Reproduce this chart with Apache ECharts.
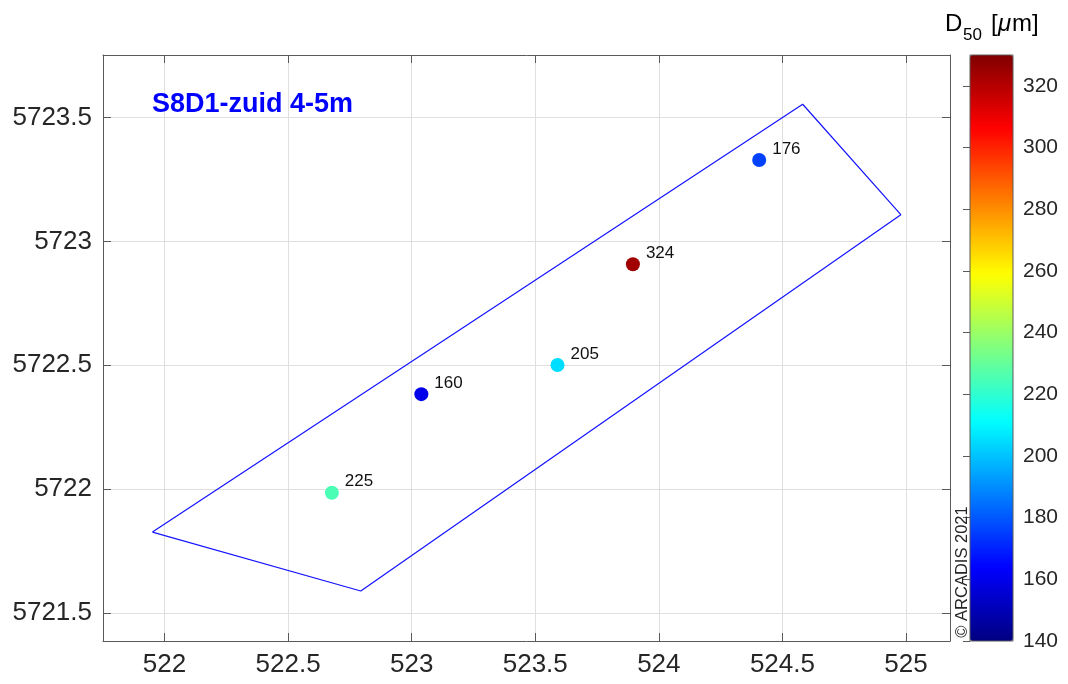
<!DOCTYPE html>
<html>
<head>
<meta charset="utf-8">
<script src="https://cdn.jsdelivr.net/npm/echarts@6/dist/echarts.min.js"></script>
<style>
html,body{margin:0;padding:0;background:#fff;}
#chart{width:1068px;height:684px;}
</style>
</head>
<body>
<div id="chart"></div>
<script>
// ---- data ----
const pointX = [522.677, 523.039, 523.590, 523.895, 524.406];
const pointY = [5721.985, 5722.383, 5722.501, 5722.908, 5723.329];
const d50 = [225, 160, 205, 324, 176];
const polyX = [521.951, 522.794, 524.979, 524.582, 521.951];
const polyY = [5721.826, 5721.588, 5723.108, 5723.554, 5721.826];
const xTicks = [522, 522.5, 523, 523.5, 524, 524.5, 525];
const yTicks = [5721.5, 5722, 5722.5, 5723, 5723.5];
const cbTicks = [140, 160, 180, 200, 220, 240, 260, 280, 300, 320];
const titleText = 'S8D1-zuid 4-5m';
const copyrightText = '\u00A9 ARCADIS 2021';

const xRange = [521.751, 525.178];
const yRange = [5721.386, 5723.753];
const cRange = [140, 330];

const FONT = '"Liberation Sans", Arial, Helvetica, sans-serif';
const TXT = '#262626';
const AX = '#5a5a5a';
const GRID = '#dfdfdf';
const jet = ['#000080','#0000ff','#0080ff','#00ffff','#80ff80','#ffff00','#ff8000','#ff0000','#800000'];

const scatterData = pointX.map((x, i) => [x, pointY[i], d50[i]]);
const polyData = polyX.map((x, i) => [x, polyY[i]]);

const fmt = v => String(+v.toFixed(3));

function mainAxis(pos, range, ticks, showLabel, isX) {
  return {
    type: 'value', gridIndex: 0, position: pos,
    min: range[0], max: range[1],
    axisLine: { show: true, onZero: false, lineStyle: { color: AX, width: 1 } },
    axisTick: { show: true, inside: true, length: 8, customValues: ticks, lineStyle: { color: AX } },
    axisLabel: { show: showLabel, customValues: ticks, formatter: fmt, color: TXT, fontSize: 26, fontFamily: FONT, margin: isX ? 11 : 11 },
    splitLine: { show: showLabel, lineStyle: { color: GRID, width: 1 } }
  };
}

const option = {
  backgroundColor: '#fff',
  animation: false,
  grid: [
    { left: 103, top: 55, right: 118, bottom: 43, containLabel: false },
    { left: 970, top: 55, width: 43, height: 586, show: true, borderColor: AX, borderWidth: 1, backgroundColor: 'transparent', z: 10 }
  ],
  xAxis: [
    mainAxis('bottom', xRange, xTicks, true, true),
    mainAxis('top', xRange, xTicks, false, true),
    { type: 'value', gridIndex: 1, show: false, min: 0, max: 1 }
  ],
  yAxis: [
    mainAxis('left', yRange, yTicks, true, false),
    mainAxis('right', yRange, yTicks, false, false),
    {
      type: 'value', gridIndex: 1, position: 'right', z: 10,
      min: cRange[0], max: cRange[1],
      axisLine: { show: false },
      axisTick: { show: true, inside: true, length: 7, customValues: cbTicks, lineStyle: { color: AX } },
      axisLabel: { show: true, customValues: cbTicks, color: TXT, fontSize: 21, fontFamily: FONT, margin: 10 },
      splitLine: { show: false }
    }
  ],
  visualMap: {
    type: 'continuous', seriesIndex: 1, dimension: 2,
    min: cRange[0], max: cRange[1],
    inRange: { color: jet },
    calculable: false, hoverLink: false,
    left: 970, top: 55, itemWidth: 43, itemHeight: 586,
    padding: 0, text: null, showLabel: false, z: 4
  },
  series: [
    {
      type: 'line', xAxisIndex: 0, yAxisIndex: 0,
      data: polyData, symbol: 'none', silent: true,
      lineStyle: { color: '#1414ff', width: 1.2 }, z: 3
    },
    {
      type: 'scatter', xAxisIndex: 0, yAxisIndex: 0,
      data: scatterData, symbolSize: 14, z: 4,
      itemStyle: { opacity: 1 },
      label: {
        show: true, position: 'right', distance: 5, offset: [1, -11],
        formatter: p => String(p.value[2]),
        color: '#111', fontSize: 17, fontFamily: FONT, opacity: 1
      }
    }
  ],
  graphic: [
    { type: 'text', left: 152, top: 91, z: 20,
      style: { text: titleText, fill: '#0000ff', font: 'bold 27px ' + FONT } },
    { type: 'text', x: 962, y: 572, rotation: Math.PI / 2, z: 20,
      style: { text: copyrightText, fill: TXT, font: '16.5px ' + FONT, align: 'center', verticalAlign: 'middle' } },
    { type: 'text', x: 945, y: 24, z: 20,
      style: { text: 'D', fill: '#000', font: '24px ' + FONT, align: 'left', verticalAlign: 'middle' } },
    { type: 'text', x: 963, y: 35, z: 20,
      style: { text: '50', fill: '#000', font: '17px ' + FONT, align: 'left', verticalAlign: 'middle' } },
    { type: 'text', x: 991, y: 24, z: 20,
      style: { text: '[', fill: '#000', font: '24px ' + FONT, align: 'left', verticalAlign: 'middle' } },
    { type: 'text', x: 998, y: 24, z: 20,
      style: { text: '\u03BC', fill: '#000', font: 'italic 24px ' + FONT, align: 'left', verticalAlign: 'middle' } },
    { type: 'text', x: 1012, y: 24, z: 20,
      style: { text: 'm]', fill: '#000', font: '24px ' + FONT, align: 'left', verticalAlign: 'middle' } }
  ]
};

const chart = echarts.init(document.getElementById('chart'), null, { renderer: 'canvas' });
chart.setOption(option);
</script>
</body>
</html>
